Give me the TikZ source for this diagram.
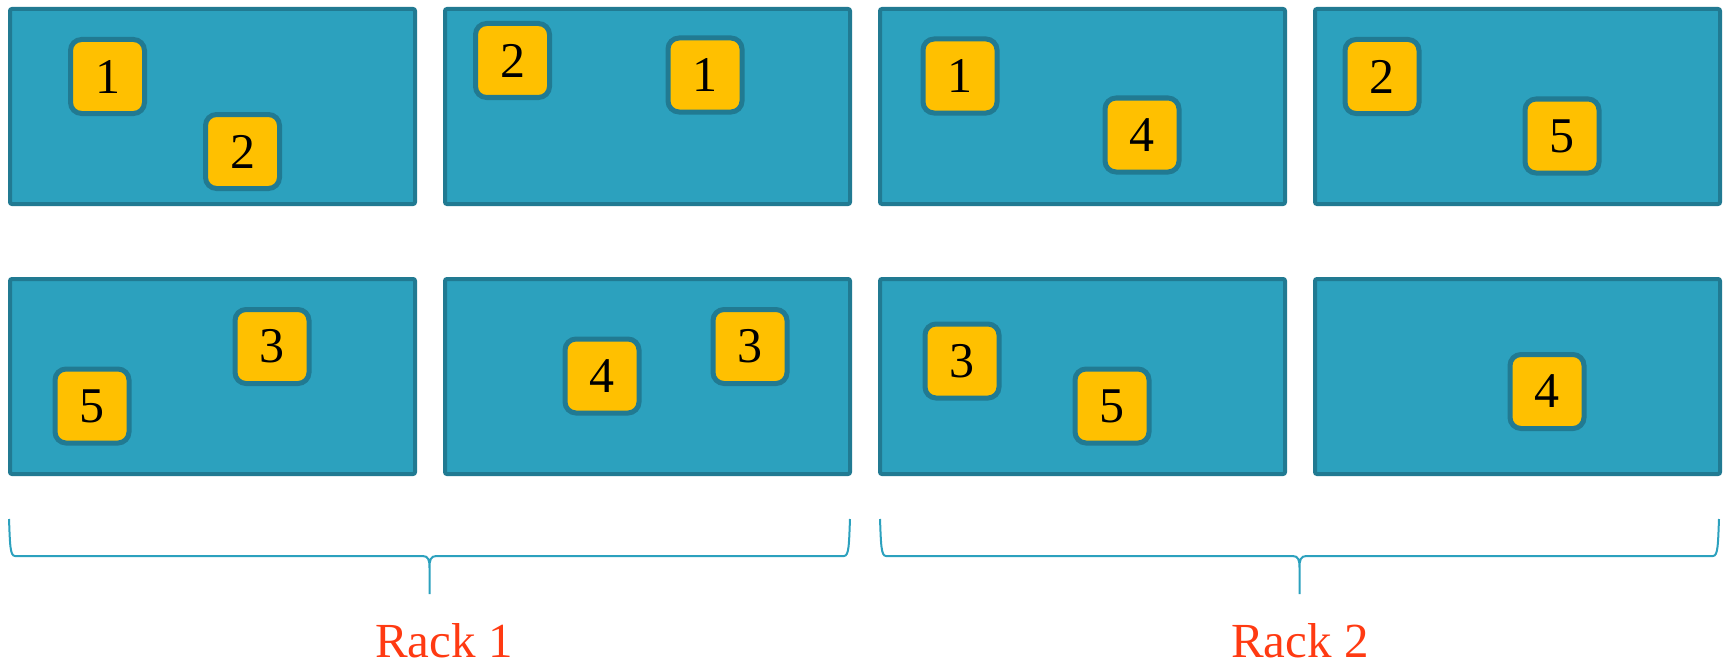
\documentclass[tikz,border=0pt]{standalone}
\usepackage{fontspec}
\setmainfont{Liberation Serif}
\definecolor{rackblue}{HTML}{2CA1BE}
\definecolor{rackedge}{HTML}{217A92}
\definecolor{shardyellow}{HTML}{FFC000}
\definecolor{racklabel}{HTML}{FF3A12}
\newcommand{\drawrackbrace}[5]{% x0, x1, xm, top, level
  \draw[bracestyle]
    (#1,#4) .. controls (#1+1,#5-12) and (#1+1,#5) .. (#1+6,#5)
    -- (#3-7,#5) .. controls (#3-1,#5) and (#3,#5+4) .. (#3,#5+12)
    -- (#3,#5+38) -- (#3,#5+12)
    .. controls (#3,#5+4) and (#3+1,#5) .. (#3+7,#5)
    -- (#2-6,#5) .. controls (#2-1,#5) and (#2-1,#5-12) .. (#2,#4);}
\begin{document}
\begin{tikzpicture}[x=1pt,y=-1pt,
  server/.style={draw=rackedge, fill=rackblue, line width=4pt,
    minimum width=405pt, minimum height=195pt, rounded corners=2pt, inner sep=0pt},
  shard/.style={draw=rackedge, fill=shardyellow, line width=5pt,
    minimum size=74pt, rounded corners=11pt, inner sep=0pt,
    font=\fontsize{50}{54}\selectfont},
  bracestyle/.style={draw=rackblue, line width=2pt},
  racktext/.style={text=racklabel, anchor=base, inner sep=0pt, text depth=0pt,
    font=\fontsize{49}{53}\selectfont}]
\useasboundingbox (0,0) rectangle (1725,669);

% servers, two rows of four
\node[server] (s11) at (212.5,106.5) {};
\node[server] (s12) at (647.5,106.5) {};
\node[server] (s13) at (1082.5,106.5) {};
\node[server] (s14) at (1517.5,106.5) {};
\node[server] (s21) at (212.5,376.5) {};
\node[server] (s22) at (647.5,376.5) {};
\node[server] (s23) at (1082.5,376.5) {};
\node[server] (s24) at (1517.5,376.5) {};

% shards on the top row
\node[shard] (a1) at (107.5,76.5) {1};
\node[shard] (a2) at (242.5,151.5) {2};
\node[shard] (b2) at (512.5,60.5) {2};
\node[shard] (b1) at (705,75) {1};
\node[shard] (c1) at (960,76) {1};
\node[shard] (c4) at (1142,135) {4};
\node[shard] (d2) at (1382,76.5) {2};
\node[shard] (d5) at (1562,136) {5};

% shards on the bottom row
\node[shard] (e3) at (272,346.5) {3};
\node[shard] (e5) at (92,406) {5};
\node[shard] (f4) at (602,376) {4};
\node[shard] (f3) at (750,346.5) {3};
\node[shard] (g3) at (962,361) {3};
\node[shard] (g5) at (1112,406) {5};
\node[shard] (h4) at (1547,391.5) {4};

% braces grouping the racks
\drawrackbrace{9}{850}{429.5}{519}{556}
\drawrackbrace{880}{1719}{1299.5}{519}{556}

\node[racktext] (r1) at (444,657) {Rack 1};
\node[racktext] (r2) at (1300,657) {Rack 2};
\end{tikzpicture}
\end{document}
